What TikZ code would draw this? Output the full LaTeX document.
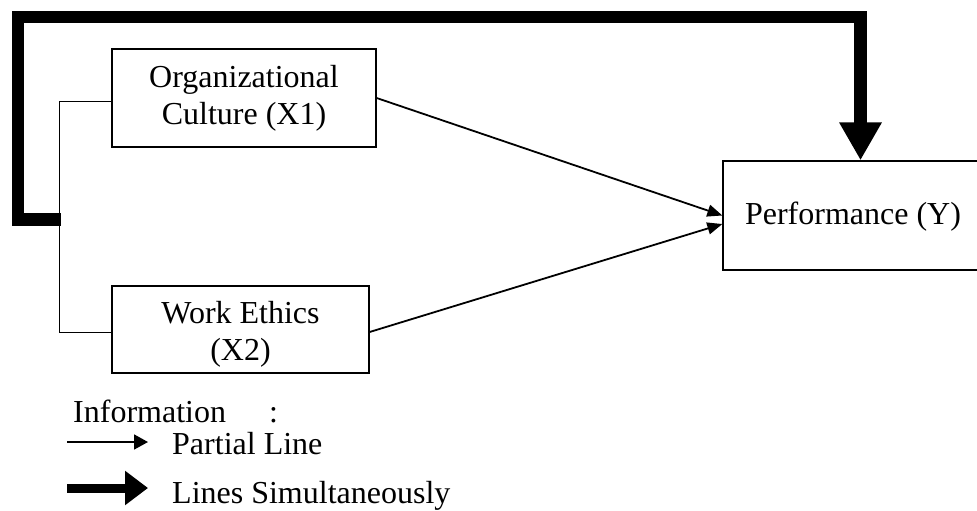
\documentclass[tikz,border=0pt]{standalone}
\usepackage{fontspec}
\setmainfont{Liberation Serif}
\usetikzlibrary{arrows.meta}
\begin{document}
\begin{tikzpicture}[x=1pt,y=-1pt,
  every node/.style={font=\fontsize{32}{37}\selectfont, inner sep=0pt},
  varbox/.style={draw, line width=1.3pt, rectangle},
  txt/.style={align=center},
  partial/.style={line width=1.8pt, -{Triangle[length=15pt,width=12pt]}},
  simul/.style={line width=12.5pt, miter limit=10, -{Triangle[length=38pt,width=40pt]}},
  bracketline/.style={line width=1pt}]
\useasboundingbox (0,0) rectangle (977,511);
% boxes
\node[varbox, minimum width=264pt, minimum height=98pt, txt] (oc) at (244,98) {Organizational\\Culture (X1)};
\node[varbox, minimum width=257pt, minimum height=87pt] (we) at (240.5,329.5) {};
\node[txt] (wet) at ([yshift=-5pt]we.center) {Work Ethics\\(X2)};
\node[varbox, minimum width=256pt, minimum height=109pt] (perf) at (851,215.5) {};
\node (perft) at ([xshift=2pt,yshift=-1pt]perf.center) {Performance (Y)};
% bracket
\draw[bracketline] ([yshift=-3pt]oc.west) -- ++(-52,0) coordinate (bt) |- ([yshift=-2.5pt]we.west);
\coordinate (jn) at (60.5,219.5);
% simultaneous path
\draw[simul] (jn) -- (18,219.5) -- (18,17) -- (860.5,17) -- ([xshift=9.5pt]perf.north);
% partial arrows
\draw[partial] (oc.east) -- (perf.west);
\draw[partial] ([yshift=-2.5pt]we.east) -- ([yshift=-8.5pt]perf.west);
% legend
\node[anchor=base west] (info) at (73,422) {Information};
\node[anchor=base west] (colon) at (269,422) {:};
\coordinate (l1s) at (67,442);
\coordinate (l1e) at (148,442);
\draw[line width=1.8pt, -{Triangle[length=14pt,width=15pt]}] (l1s) -- (l1e);
\node[anchor=base west] (pl) at (172,454) {Partial Line};
\coordinate (l2s) at (67,488);
\coordinate (l2e) at (148,488);
\draw[line width=9pt, -{Triangle[length=23pt,width=33pt]}] (l2s) -- (l2e);
\node[anchor=base west] (ls) at (172,503) {Lines Simultaneously};
\end{tikzpicture}
\end{document}
